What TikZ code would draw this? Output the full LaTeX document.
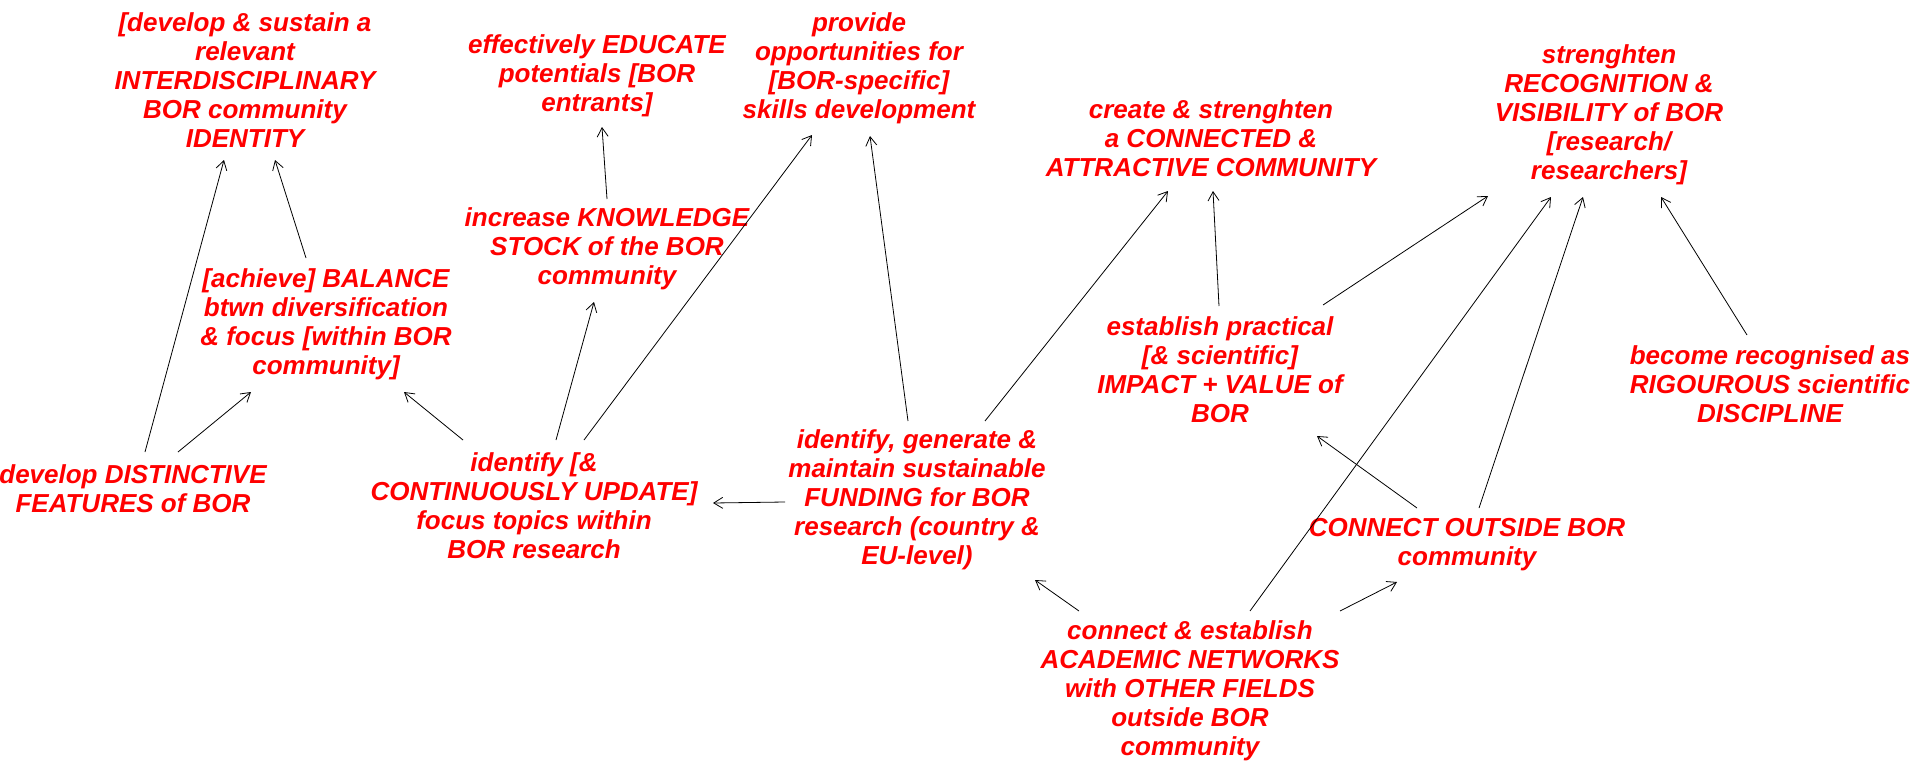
\documentclass[tikz,border=0pt]{standalone}
\usepackage{fontspec}
\setmainfont{Liberation Sans}
\usetikzlibrary{arrows.meta}
\begin{document}
\begin{tikzpicture}[x=1pt,y=-1pt,
  lbl/.style={text=red, align=center, inner sep=0pt, font=\fontsize{26}{29}\selectfont\bfseries\itshape},
  arr/.style={draw=black, line width=0.8pt, -{Straight Barb[length=9pt,width=11pt]}}]
\useasboundingbox[fill=white] (0,0) rectangle (1915,763);
\node[lbl] (A) at (245,80) {[develop \& sustain a\\relevant\\INTERDISCIPLINARY\\BOR community\\IDENTITY};
\node[lbl] (B) at (597,76) {effectively EDUCATE\\potentials [BOR\\entrants]};
\node[lbl] (C) at (859,68) {provide\\opportunities for\\{[BOR-specific]}\\skills development};
\node[lbl] (D) at (1211,138) {create \& strenghten\\a CONNECTED \&\\ATTRACTIVE COMMUNITY};
\node[lbl] (E) at (1609,115) {strenghten\\RECOGNITION \&\\VISIBILITY of BOR\\{[research/}\\researchers]};
\node[lbl] (F) at (607,249) {increase KNOWLEDGE\\STOCK of the BOR\\community};
\node[lbl] (G) at (326,324) {[achieve] BALANCE\\btwn diversification\\\& focus [within BOR\\community]};
\node[lbl] (H) at (1220,370) {establish practical\\{[\& scientific]}\\IMPACT + VALUE of\\BOR};
\node[lbl] (I) at (1770,384) {become recognised as\\RIGOUROUS scientific\\DISCIPLINE};
\node[lbl] (J) at (133,489) {develop DISTINCTIVE\\FEATURES of BOR};
\node[lbl] (K) at (534,506) {identify [\&\\CONTINUOUSLY UPDATE]\\focus topics within\\BOR research};
\node[lbl] (L) at (917,500) {identify, generate \&\\maintain sustainable\\FUNDING for BOR\\research (country \&\\EU-level)};
\node[lbl] (M) at (1467,545) {CONNECT OUTSIDE BOR\\community};
\node[lbl] (N) at (1190,691) {connect \& establish\\ACADEMIC NETWORKS\\with OTHER FIELDS\\outside BOR\\community};
\draw[arr] ([shift={(12,-37)}]J.center) -- ([shift={(-21,80)}]A.center);
\draw[arr] ([shift={(45,-37)}]J.center) -- ([shift={(-75,68)}]G.center);
\draw[arr] ([shift={(-20,-66)}]G.center) -- ([shift={(30,80)}]A.center);
\draw[arr] ([shift={(-71,-66)}]K.center) -- ([shift={(78,68)}]G.center);
\draw[arr] ([shift={(22,-66)}]K.center) -- ([shift={(-13,53)}]F.center);
\draw[arr] ([shift={(50,-66)}]K.center) -- ([shift={(-47,67)}]C.center);
\draw[arr] ([shift={(0,-50)}]F.center) -- ([shift={(5,51)}]B.center);
\draw[arr] ([shift={(-132,2)}]L.center) -- ([shift={(179,-3)}]K.center);
\draw[arr] ([shift={(-9,-79)}]L.center) -- ([shift={(11,68)}]C.center);
\draw[arr] ([shift={(68,-79)}]L.center) -- ([shift={(-43,53)}]D.center);
\draw[arr] ([shift={(-1,-64)}]H.center) -- ([shift={(2,53)}]D.center);
\draw[arr] ([shift={(103,-65)}]H.center) -- ([shift={(-121,81)}]E.center);
\draw[arr] ([shift={(60,-80)}]N.center) -- ([shift={(-58,82)}]E.center);
\draw[arr] ([shift={(12,-37)}]M.center) -- ([shift={(-26,82)}]E.center);
\draw[arr] ([shift={(-23,-49)}]I.center) -- ([shift={(52,82)}]E.center);
\draw[arr] ([shift={(-50,-37)}]M.center) -- ([shift={(97,66)}]H.center);
\draw[arr] ([shift={(-111,-80)}]N.center) -- ([shift={(118,80)}]L.center);
\draw[arr] ([shift={(150,-80)}]N.center) -- ([shift={(-70,37)}]M.center);
\end{tikzpicture}
\end{document}
